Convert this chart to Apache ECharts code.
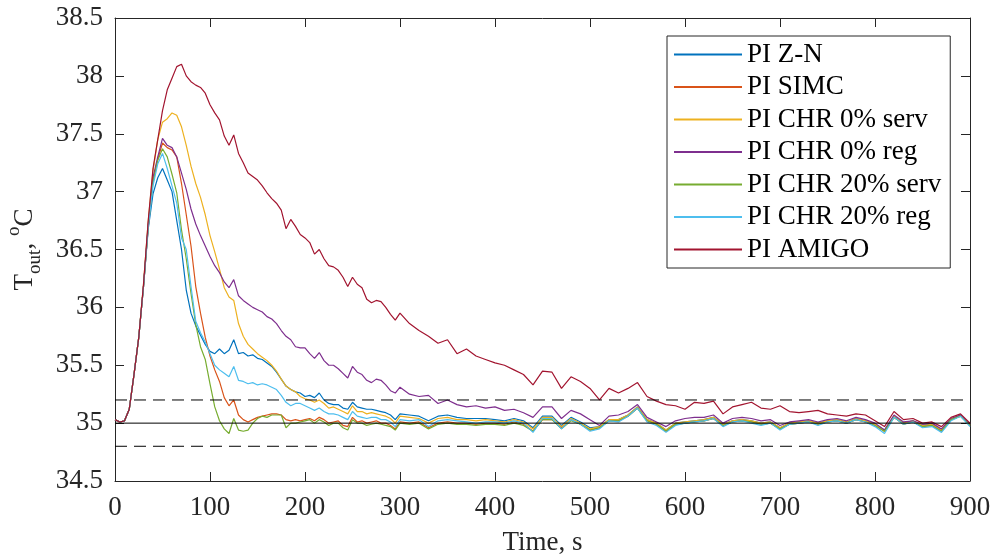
<!DOCTYPE html>
<html>
<head>
<meta charset="utf-8">
<script src="https://cdn.jsdelivr.net/npm/echarts@6/dist/echarts.min.js"></script>
<style>html,body{margin:0;padding:0;background:#fff}#chart{width:995px;height:558px}</style>
</head>
<body>
<div id="chart"></div>
<script>
// ---- data ----
const TIME = [0,5,10,15,20,25,30,35,40,45,50,55,60,65,70,75,80,85,90,95,100,105,110,115,120,125,130,135,140,145,150,155,160,165,170,175,180,185,190,195,200,205,210,215,220,225,230,235,240,245,250,255,260,265,270,275,280,285,290,295,300,
310,320,330,340,350,360,370,380,390,400,410,420,430,440,450,460,470,480,490,500,510,520,530,540,550,560,570,580,590,600,610,620,630,640,650,660,670,680,690,700,710,720,730,740,750,760,770,780,790,800,810,820,830,840,850,860,870,880,890,900];

const PI_ZN = [35.03,35.01,35.02,35.12,35.42,35.74,36.18,36.68,36.98,37.12,37.2,37.1,37.0,36.75,36.5,36.15,35.95,35.84,35.76,35.68,35.62,35.6,35.64,35.6,35.63,35.72,35.6,35.61,35.58,35.59,35.56,35.55,35.52,35.49,35.44,35.38,35.32,35.29,35.27,35.26,35.23,35.24,35.22,35.26,35.2,35.17,35.16,35.16,35.13,35.12,35.18,35.14,35.13,35.12,35.12,35.11,35.1,35.09,35.07,35.03,35.08,
35.07,35.06,35.02,35.06,35.07,35.05,35.04,35.04,35.04,35.03,35.02,35.04,35.02,34.96,35.06,35.06,34.98,35.05,35.01,34.96,34.97,35.03,35.03,35.07,35.14,35.03,35.0,34.94,35.0,35.01,35.02,35.03,35.05,34.99,35.02,35.03,35.02,35.0,35.01,34.96,35.0,35.01,35.02,35.0,35.02,35.03,35.01,35.04,35.02,34.99,34.94,35.06,35.0,35.02,34.98,34.99,34.94,35.03,35.07,34.98];

const PI_SIMC = [35.03,35.01,35.02,35.12,35.42,35.74,36.18,36.7,37.1,37.28,37.42,37.38,37.36,37.3,37.07,36.8,36.53,36.18,35.95,35.74,35.58,35.46,35.36,35.22,35.15,35.2,35.07,35.03,35.01,35.03,35.05,35.06,35.07,35.08,35.08,35.07,35.03,35.02,35.03,35.02,35.03,35.04,35.02,35.05,35.03,35.0,35.01,35.02,34.98,34.97,35.05,35.01,35.02,35.0,35.01,35.02,35.0,35.0,34.98,34.95,35.01,
35.0,35.01,34.96,35.0,35.01,35.0,35.0,34.99,35.0,35.0,34.99,35.01,34.99,34.93,35.03,35.03,34.96,35.03,34.99,34.94,34.96,35.02,35.02,35.06,35.13,35.02,34.99,34.93,34.99,35.0,35.01,35.02,35.04,34.98,35.01,35.02,35.01,34.99,35.0,34.95,34.99,35.0,35.01,34.99,35.01,35.02,35.0,35.03,35.01,34.98,34.93,35.05,34.99,35.01,34.97,34.98,34.93,35.03,35.06,34.98];

const PI_CHR0_SERV = [35.03,35.01,35.02,35.12,35.42,35.74,36.2,36.75,37.18,37.45,37.6,37.63,37.68,37.66,37.56,37.4,37.22,37.07,36.95,36.8,36.62,36.48,36.33,36.17,36.09,36.06,35.86,35.75,35.68,35.64,35.6,35.57,35.54,35.5,35.45,35.38,35.32,35.29,35.27,35.23,35.21,35.2,35.18,35.2,35.17,35.13,35.14,35.12,35.1,35.08,35.15,35.1,35.1,35.08,35.09,35.08,35.07,35.06,35.04,35.0,35.06,
35.05,35.04,35.0,35.04,35.05,35.03,35.03,35.02,35.03,35.02,35.01,35.03,35.01,34.95,35.05,35.05,34.97,35.04,35.0,34.95,34.97,35.03,35.03,35.07,35.14,35.03,35.0,34.94,35.0,35.01,35.02,35.03,35.05,34.99,35.02,35.03,35.02,35.0,35.01,34.96,35.0,35.01,35.02,35.0,35.02,35.03,35.01,35.04,35.02,34.99,34.93,35.06,35.0,35.02,34.98,34.99,34.94,35.03,35.06,34.98];

const PI_CHR0_REG = [35.03,35.01,35.02,35.12,35.42,35.74,36.18,36.72,37.12,37.3,37.46,37.4,37.38,37.3,37.16,37.02,36.85,36.72,36.62,36.53,36.44,36.36,36.3,36.22,36.17,36.24,36.1,36.06,36.03,36.0,35.98,35.96,35.92,35.9,35.86,35.8,35.75,35.72,35.66,35.65,35.65,35.6,35.56,35.61,35.54,35.5,35.5,35.47,35.43,35.39,35.49,35.44,35.42,35.37,35.35,35.38,35.37,35.33,35.28,35.26,35.31,
35.25,35.23,35.24,35.17,35.2,35.16,35.14,35.15,35.13,35.14,35.11,35.12,35.09,35.05,35.14,35.14,35.04,35.11,35.08,35.03,34.98,35.06,35.07,35.1,35.16,35.05,35.01,34.97,35.02,35.04,35.05,35.05,35.07,35.0,35.04,35.05,35.04,35.02,35.03,34.98,35.01,35.02,35.03,35.01,35.03,35.04,35.02,35.05,35.03,35.0,34.94,35.07,35.01,35.02,34.99,35.0,34.95,35.04,35.07,34.99];

const PI_CHR20_SERV = [35.03,35.01,35.02,35.12,35.42,35.74,36.18,36.7,37.08,37.27,37.37,37.3,37.15,36.99,36.67,36.42,36.12,35.85,35.66,35.55,35.34,35.14,35.02,34.95,34.91,35.04,34.94,34.93,34.94,35.0,35.04,35.06,35.05,35.07,35.07,35.07,34.96,35.0,35.0,35.01,35.02,35.03,35.0,35.03,35.01,34.98,35.0,35.0,34.96,34.94,35.03,35.0,35.0,34.98,34.99,35.0,34.99,34.98,34.97,34.94,35.0,
34.99,35.0,34.95,34.99,35.0,34.99,34.99,34.98,34.99,34.99,34.98,35.0,34.98,34.93,35.03,35.03,34.95,35.02,34.99,34.94,34.96,35.02,35.02,35.06,35.13,35.02,34.99,34.93,34.99,35.0,35.01,35.02,35.04,34.98,35.01,35.02,35.01,34.99,35.0,34.95,34.99,35.0,35.01,34.99,35.01,35.02,35.0,35.03,35.01,34.98,34.93,35.05,34.99,35.01,34.97,34.98,34.93,35.03,35.06,34.98];

const PI_CHR20_REG = [35.03,35.01,35.02,35.12,35.42,35.74,36.18,36.7,37.05,37.24,37.33,37.2,37.05,36.9,36.6,36.5,36.18,35.88,35.78,35.7,35.6,35.5,35.46,35.43,35.4,35.49,35.37,35.36,35.34,35.35,35.33,35.34,35.33,35.31,35.29,35.24,35.18,35.15,35.17,35.17,35.15,35.13,35.11,35.13,35.1,35.08,35.08,35.07,35.05,35.03,35.1,35.06,35.05,35.04,35.05,35.05,35.03,35.03,35.01,34.97,35.03,
35.02,35.03,34.97,35.02,35.03,35.02,35.01,35.0,35.01,35.01,35.0,35.02,35.0,34.92,35.04,35.04,34.95,35.03,34.99,34.93,34.95,35.02,35.01,35.06,35.13,35.01,34.98,34.92,34.98,35.0,35.01,35.02,35.04,34.97,35.01,35.02,35.0,34.98,35.0,34.94,34.99,35.0,35.01,34.98,35.01,35.02,35.0,35.03,35.01,34.97,34.91,35.05,34.99,35.01,34.96,34.97,34.92,35.02,35.06,34.97];

const PI_AMIGO = [35.03,35.01,35.02,35.12,35.42,35.74,36.2,36.75,37.2,37.45,37.7,37.88,37.98,38.08,38.1,38.0,37.95,37.92,37.9,37.85,37.75,37.68,37.62,37.48,37.4,37.49,37.33,37.25,37.16,37.13,37.1,37.05,36.99,36.94,36.9,36.84,36.68,36.76,36.7,36.63,36.6,36.56,36.46,36.5,36.42,36.36,36.35,36.32,36.26,36.18,36.26,36.2,36.17,36.07,36.04,36.06,36.05,36.0,35.94,35.89,35.95,
35.86,35.8,35.75,35.69,35.72,35.6,35.64,35.58,35.55,35.52,35.5,35.46,35.42,35.33,35.45,35.44,35.3,35.4,35.36,35.3,35.2,35.3,35.26,35.3,35.35,35.23,35.19,35.16,35.15,35.12,35.18,35.17,35.19,35.08,35.14,35.16,35.18,35.13,35.12,35.15,35.1,35.09,35.1,35.11,35.08,35.07,35.06,35.08,35.07,35.02,34.97,35.1,35.03,35.04,35.0,35.01,34.97,35.05,35.08,35.0];

const SERIES_NAMES = ['PI Z-N','PI SIMC','PI CHR 0% serv','PI CHR 0% reg','PI CHR 20% serv','PI CHR 20% reg','PI AMIGO'];
const SERIES_VALUES = [PI_ZN, PI_SIMC, PI_CHR0_SERV, PI_CHR0_REG, PI_CHR20_SERV, PI_CHR20_REG, PI_AMIGO];
const REF_LEVELS = [35.2, 35.0, 34.8];
const X_RANGE = [0, 900];
const Y_RANGE = [34.5, 38.5];

// ---- styles ----
const COLORS = ['#0072BD','#D95319','#EDB120','#7E2F8E','#77AC30','#4DBEEE','#A2142F'];
const REF_STYLES = ['dashed','solid','dashed'];
const FONT = 'Liberation Serif';
const FS = 27;
const AX = '#262626';

const pairs = vals => TIME.map((t, i) => [t, vals[i]]);

const series = SERIES_VALUES.map((vals, i) => ({
  name: SERIES_NAMES[i], type: 'line', data: pairs(vals),
  showSymbol: false, symbol: 'none', smooth: false,
  lineStyle: { color: COLORS[i], width: 1.2 }, itemStyle: { color: COLORS[i] },
  z: 2 + i, silent: true
}));
REF_LEVELS.forEach((lev, i) => {
  series.push({
    type: 'line', data: [[X_RANGE[0], lev], [X_RANGE[1], lev]],
    showSymbol: false, symbol: 'none', silent: true, z: 20,
    lineStyle: { color: '#000', width: 1, type: REF_STYLES[i] === 'dashed' ? [12, 7] : 'solid' }
  });
});

const baseX = {
  type: 'value', min: X_RANGE[0], max: X_RANGE[1], interval: 100,
  axisLine: { show: true, onZero: false, lineStyle: { color: AX, width: 1 } },
  axisTick: { show: true, inside: true, length: 9, lineStyle: { color: AX, width: 1 } },
  splitLine: { show: false }
};
const baseY = {
  type: 'value', min: Y_RANGE[0], max: Y_RANGE[1], interval: 0.5,
  axisLine: { show: true, onZero: false, lineStyle: { color: AX, width: 1 } },
  axisTick: { show: true, inside: true, length: 9, lineStyle: { color: AX, width: 1 } },
  splitLine: { show: false }
};

const chart = echarts.init(document.getElementById('chart'), null, { renderer: 'canvas' });
chart.setOption({
  animation: false,
  backgroundColor: '#fff',
  grid: { left: 115, right: 25, top: 18, bottom: 77, show: false, containLabel: false, outerBoundsMode: 'none' },
  xAxis: [
    Object.assign({}, baseX, {
      position: 'bottom',
      axisLabel: { color: AX, fontFamily: FONT, fontSize: FS, margin: 13 },
      name: 'Time, s', nameLocation: 'middle', nameGap: 48,
      nameTextStyle: { color: AX, fontFamily: FONT, fontSize: FS }
    }),
    Object.assign({}, baseX, { position: 'top', axisLabel: { show: false } })
  ],
  yAxis: [
    Object.assign({}, baseY, {
      position: 'left',
      axisLabel: { color: AX, fontFamily: FONT, fontSize: FS, margin: 12 },
      name: '{t|T}{s|out}{t|, }{p|o}{t|C}', nameLocation: 'middle', nameGap: 67, nameRotate: 90,
      nameTextStyle: {
        color: AX, fontFamily: FONT, fontSize: FS,
        rich: {
          t: { color: AX, fontFamily: FONT, fontSize: FS, lineHeight: 40, verticalAlign: 'middle' },
          s: { color: AX, fontFamily: FONT, fontSize: 19, lineHeight: 40, verticalAlign: 'bottom' },
          p: { color: AX, fontFamily: FONT, fontSize: 19, lineHeight: 40, verticalAlign: 'top' }
        }
      }
    }),
    Object.assign({}, baseY, { position: 'right', axisLabel: { show: false } })
  ],
  legend: {
    data: SERIES_NAMES, orient: 'vertical', left: 667, top: 36,
    padding: [5, 9, 5, 7], itemGap: 5.5, itemWidth: 68, itemHeight: 2, icon: 'rect',
    textStyle: { fontFamily: FONT, fontSize: FS, color: '#000', lineHeight: 27 },
    backgroundColor: '#fff', borderColor: AX, borderWidth: 1, borderRadius: 0,
    selectedMode: false
  },
  series: series
});
</script>
</body>
</html>
